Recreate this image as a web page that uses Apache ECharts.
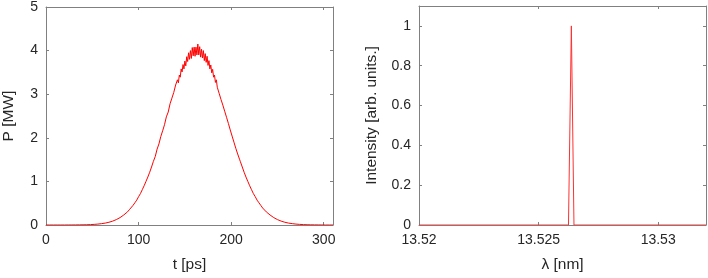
<!DOCTYPE html>
<html>
<head>
<meta charset="utf-8">
<script src="https://cdn.jsdelivr.net/npm/echarts@6/dist/echarts.min.js"></script>
<style>
  body{
    margin:0;
    background:#fff;
  }
  #myChart{
    width:708px;
    height:278px;
  }
</style>
</head>
<body>
<div id="myChart"></div>
<script>
// pulse power vs time, denser around the noisy top
let timePs = [
  0, 2, 4, 6, 8, 10, 12, 14, 16, 18, 20, 22, 24, 26, 28, 30, 32, 34, 36, 38,
  40, 42, 44, 46, 48, 50, 52, 54, 56, 58, 60, 62, 64, 66, 68, 70, 72, 74, 76, 78,
  80, 82, 84, 86, 88, 90, 92, 94, 96, 98, 100, 102, 104, 106, 108, 110, 112, 114, 116, 118,
  120, 121, 122, 123, 124, 125, 126, 127, 128, 129, 130, 131, 132, 133, 134, 135, 136, 137, 138, 139,
  140, 141, 142, 143, 144, 145, 146, 147, 148, 149, 150, 151, 152, 153, 154, 155, 156, 157, 158, 159,
  160, 161, 162, 163, 164, 165, 166, 167, 168, 169, 170, 171, 172, 173, 174, 175, 176, 177, 178, 179,
  180, 181, 182, 183, 184, 185, 186, 187, 188, 189, 190, 191, 192, 193, 194, 195, 196, 197, 198, 199,
  200, 201, 202, 203, 204, 205, 206, 207, 208, 209, 210,
  212, 214, 216, 218, 220, 222, 224, 226, 228, 230, 232, 234, 236, 238,
  240, 242, 244, 246, 248, 250, 252, 254, 256, 258, 260, 262, 264, 266, 268, 270, 272, 274, 276, 278,
  280, 282, 284, 286, 288, 290, 292, 294, 296, 298, 300, 302, 304, 306, 308, 310
]
let powerMW = [
  0, 0, 0, 0, 0, 0, 0, 0, 0, 0, 0, 0, 0.001, 0.001, 0.001, 0.001, 0.002, 0.002, 0.003, 0.003,
  0.004, 0.005, 0.006, 0.007, 0.009, 0.011, 0.014, 0.017, 0.021, 0.025, 0.031, 0.037, 0.044, 0.053, 0.063, 0.075, 0.089, 0.105, 0.124, 0.145,
  0.17, 0.2, 0.23, 0.26, 0.3, 0.35, 0.39, 0.45, 0.51, 0.57, 0.65, 0.72, 0.81, 0.9, 1.0, 1.1, 1.21, 1.33, 1.46, 1.57,
  1.74, 1.76, 1.86, 1.88, 2.03, 2.04, 2.16, 2.17, 2.3, 2.33, 2.48, 2.46, 2.59, 2.6, 2.78, 2.76, 2.91, 2.87, 3.04, 3.02,
  3.21, 3.17, 3.33, 3.26, 3.44, 3.39, 3.58, 3.51, 3.68, 3.58, 3.76, 3.65, 3.86, 3.75, 3.95, 3.8, 4.0, 3.82, 4.07, 3.88,
  4.08, 3.87, 4.08, 3.9, 4.15, 3.9, 4.09, 3.85, 4.03, 3.83, 4.0, 3.77, 3.93, 3.73, 3.87, 3.66, 3.77, 3.58, 3.67, 3.49,
  3.57, 3.39, 3.44, 3.27, 3.33, 3.16, 3.19, 3.02, 3.04, 2.88, 2.9, 2.75, 2.76, 2.61, 2.61, 2.47, 2.46, 2.33, 2.31, 2.18,
  2.15, 2.04, 2.01, 1.9, 1.87, 1.76, 1.73, 1.63, 1.59, 1.51, 1.45,
  1.33, 1.21, 1.1, 1.0, 0.9, 0.81, 0.72, 0.65, 0.57, 0.51, 0.45, 0.39, 0.35, 0.3,
  0.26, 0.23, 0.2, 0.17, 0.145, 0.124, 0.105, 0.089, 0.075, 0.063, 0.053, 0.044, 0.037, 0.031, 0.025, 0.021, 0.017, 0.014, 0.011, 0.009,
  0.007, 0.006, 0.005, 0.004, 0.003, 0.003, 0.002, 0.002, 0.001, 0.001, 0.001, 0, 0, 0, 0, 0
]

// spectrum (right panel)
let wavelengthNm = [13.52, 13.52625, 13.52637, 13.52648, 13.532]
let intensity = [0, 0, 1, 0, 0]

let timeData = timePs.map((t, i) => [t, powerMW[i]])
let specData = wavelengthNm.map((w, i) => [w, intensity[i]])

let textColor = '#262626'
let frameColor = '#808080'
let fontFamily = 'Liberation Sans, Arial, sans-serif'

function frameAxis (gridIndex, position, min, max, interval, extra) {
  return Object.assign({
    type: 'value',
    gridIndex: gridIndex,
    position: position,
    min: min,
    max: max,
    interval: interval,
    axisLine: { show: true, onZero: false, lineStyle: { color: frameColor, width: 1 } },
    axisTick: { show: true, inside: true, length: 3, lineStyle: { color: frameColor } },
    axisLabel: { show: false },
    splitLine: { show: false }
  }, extra || {})
}

function labelStyle (extra) {
  return Object.assign({
    show: true,
    color: textColor,
    fontSize: 14,
    fontFamily: fontFamily,
    margin: 8
  }, extra || {})
}

let nameStyle = { color: textColor, fontSize: 15.5, fontFamily: fontFamily }

let myChart = echarts.init(document.getElementById('myChart'))
myChart.setOption({
  animation: false,
  backgroundColor: '#fff',
  grid: [
    { left: 45, top: 6, width: 288, height: 222 },
    { left: 419, top: 6, width: 287, height: 222 }
  ],
  xAxis: [
    frameAxis(0, 'bottom', 0, 310, 100, {
      axisLabel: labelStyle({ showMaxLabel: false }),
      name: 't [ps]',
      nameLocation: 'middle',
      nameGap: 32,
      nameTextStyle: nameStyle
    }),
    frameAxis(0, 'top', 0, 310, 100),
    frameAxis(1, 'bottom', 13.52, 13.532, 0.005, {
      axisLabel: labelStyle({
        showMaxLabel: false,
        formatter: function (v) { return String(+v.toFixed(4)) }
      }),
      name: 'λ [nm]',
      nameLocation: 'middle',
      nameGap: 32,
      nameTextStyle: nameStyle
    }),
    frameAxis(1, 'top', 13.52, 13.532, 0.005)
  ],
  yAxis: [
    frameAxis(0, 'left', 0, 5, 1, {
      axisLabel: labelStyle(),
      name: 'P [MW]',
      nameLocation: 'middle',
      nameGap: 29,
      nameTextStyle: nameStyle
    }),
    frameAxis(0, 'right', 0, 5, 1),
    frameAxis(1, 'left', 0, 1.1, 0.2, {
      axisLabel: labelStyle({
        showMaxLabel: false,
        formatter: function (v) { return String(+v.toFixed(2)) }
      }),
      name: 'Intensity [arb. units.]',
      nameLocation: 'middle',
      nameGap: 39,
      nameTextStyle: nameStyle
    }),
    frameAxis(1, 'right', 0, 1.1, 0.2)
  ],
  series: [
    {
      type: 'line',
      xAxisIndex: 0,
      yAxisIndex: 0,
      data: timeData,
      showSymbol: false,
      lineStyle: { color: '#ff0000', width: 1 },
      itemStyle: { color: '#ff0000' }
    },
    {
      type: 'line',
      xAxisIndex: 2,
      yAxisIndex: 2,
      data: specData,
      showSymbol: false,
      lineStyle: { color: '#ff3030', width: 1 },
      itemStyle: { color: '#ff3030' }
    }
  ]
})
</script>
</body>
</html>
